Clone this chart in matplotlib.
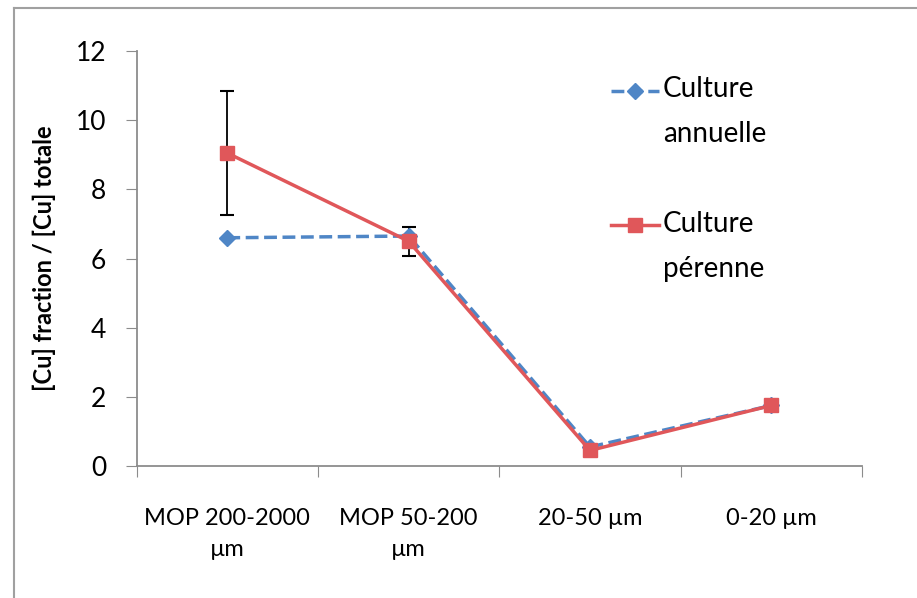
import matplotlib.pyplot as plt
from matplotlib.lines import Line2D
from matplotlib.legend_handler import HandlerLine2D
import numpy as np

plt.rcParams['font.family'] = ['Lato', 'DejaVu Sans']

categories = ['MOP 200-2000\nµm', 'MOP 50-200\nµm', '20-50 µm', '0-20 µm']
annuelle = [6.6, 6.65, 0.55, 1.75]
perenne = [9.05, 6.5, 0.45, 1.75]
perenne_err = [1.8, 0.42, 0.0, 0.0]

blue = '#4F86C6'
red = '#E0575A'
grey = '#8C8C8C'


# legend handle aligned with the first line of a two-line label
class TopLineHandler(HandlerLine2D):
    def create_artists(self, legend, orig_handle, xdescent, ydescent,
                       width, height, fontsize, trans):
        artists = super().create_artists(legend, orig_handle, xdescent, ydescent,
                                         width, height, fontsize, trans)
        for a in artists:
            a.set_ydata(np.asarray(a.get_ydata()) + 0.78 * fontsize)
        return artists


fig = plt.figure(figsize=(9.17, 5.98), dpi=100)
ax = fig.add_axes([0.149, 0.2207, 0.791, 0.694])

x = np.arange(len(categories)) + 0.5

ax.errorbar(x, perenne, yerr=perenne_err, fmt='none', ecolor='black',
            elinewidth=1.3, capsize=5, capthick=1.5, zorder=2)
l1, = ax.plot(x, annuelle, color=blue, linestyle='--', linewidth=2.5,
              marker='D', markersize=8, label='Culture\nannuelle', zorder=3)
l2, = ax.plot(x, perenne, color=red, linewidth=2.5,
              marker='s', markersize=10, label='Culture\npérenne', zorder=4)

ax.set_xlim(0, 4)
ax.set_ylim(0, 12)
ax.set_yticks(range(0, 13, 2))
ax.set_xticks(range(0, 5))
ax.set_xticklabels([])
ax.set_xticks(x, minor=True)
ax.set_xticklabels(categories, minor=True, fontsize=17)
ax.tick_params(axis='x', which='minor', length=0, pad=30)
ax.tick_params(axis='x', which='major', length=8, color=grey, direction='out')
ax.tick_params(axis='y', length=8, color=grey, labelsize=19, pad=14)
for lab in ax.get_xticklabels(minor=True):
    lab.set_linespacing(1.6)

for s in ['top', 'right']:
    ax.spines[s].set_visible(False)
for s in ['left', 'bottom']:
    ax.spines[s].set_color(grey)
    ax.spines[s].set_linewidth(1.3)

ax.set_ylabel('[Cu] fraction / [Cu] totale', fontsize=17, fontweight='bold', labelpad=14)

leg = ax.legend(loc='upper left', bbox_to_anchor=(0.62, 1.0), frameon=False,
                fontsize=20, labelspacing=2.3, handlelength=1.7, handletextpad=0.15,
                handler_map={Line2D: TopLineHandler()})
for t in leg.get_texts():
    t.set_linespacing(1.9)

# outer chart frame (left and top edges)
fig.add_artist(Line2D([14 / 917, 14 / 917], [0, 1 - 8 / 598], color='#A0A0A0', linewidth=1.5))
fig.add_artist(Line2D([14 / 917, 1], [1 - 8 / 598, 1 - 8 / 598], color='#A0A0A0', linewidth=1.5))

fig.savefig('out.png', dpi=100)
